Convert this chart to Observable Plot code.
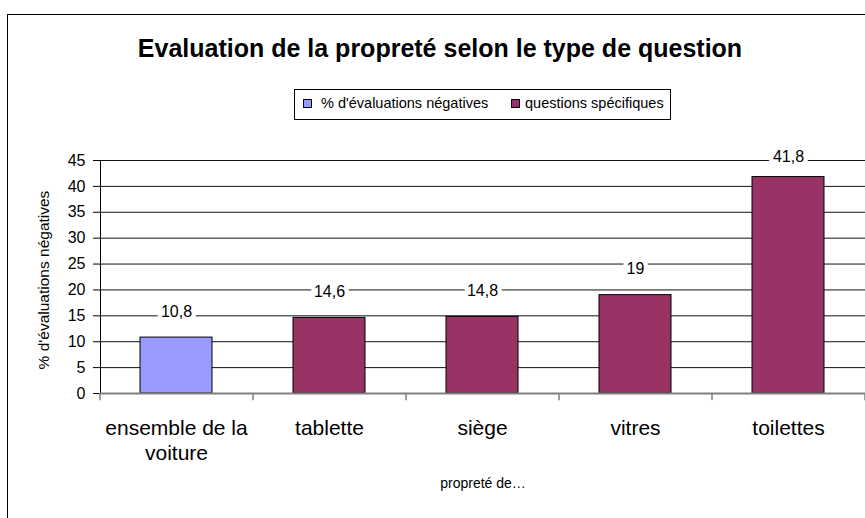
<!DOCTYPE html>
<html>
<head>
<meta charset="utf-8">
<script src="https://cdn.jsdelivr.net/npm/d3@7"></script>
<script src="https://cdn.jsdelivr.net/npm/@observablehq/plot@0.6"></script>
<style>
  html, body { margin: 0; padding: 0; background: #fff; overflow: hidden; }
  #wrap { position: relative; width: 865px; height: 518px; overflow: hidden; font-family: "Liberation Sans", Arial, sans-serif; }
  #wrap svg { position: absolute; left: 0; top: 0; }
  #border { position: absolute; left: 7px; top: 14px; width: 1000px; height: 1000px; border: 1px solid #000; box-sizing: border-box; pointer-events: none; }
  #title { position: absolute; left: 0; top: 36px; width: 880px; text-align: center; font-weight: bold; font-size: 25px; line-height: 25px; color: #000; white-space: nowrap; }
  #legend { position: absolute; left: 294px; top: 89px; width: 377px; height: 31px; border: 1px solid #000; box-sizing: border-box; background: #fff; }
  #legend .sw { position: absolute; top: 9px; width: 9px; height: 9px; border: 1px solid #000; box-sizing: border-box; }
  #legend .lb { position: absolute; top: 6px; font-size: 14.5px; line-height: 15px; color: #000; white-space: nowrap; }
</style>
</head>
<body>
<div id="wrap">
  <div id="title"></div>
  <div id="legend"></div>
  <div id="border"></div>
</div>
<script>
// Cleanliness ratings: share of negative evaluations per question
const categories = ["ensemble de la voiture", "tablette", "siège", "vitres", "toilettes"];
const tickLabels = ["ensemble de la\nvoiture", "tablette", "siège", "vitres", "toilettes"];
const values = [10.8, 14.6, 14.8, 19, 41.8];
const seriesOf = ["% d'évaluations négatives", "questions spécifiques", "questions spécifiques", "questions spécifiques", "questions spécifiques"];
const seriesNames = ["% d'évaluations négatives", "questions spécifiques"];
const seriesColors = ["#9999FF", "#993366"];
const yDomain = [0, 45];
const titleText = "Evaluation de la propreté selon le type de question";
const yTitle = "% d'évaluations négatives";
const xTitle = "propreté de…";

const data = categories.map((c, i) => ({
  category: c,
  tick: tickLabels[i],
  value: values[i],
  series: seriesOf[i]
}));

const fmt = v => String(v).replace(".", ",");

const W = 865, H = 518;
const mLeft = 100, mRight = 0, mTop = 160, mBottom = 125;
const padInner = 0.529, padOuter = padInner / 2;
const step = (W - mLeft - mRight) / (categories.length - padInner + 2 * padOuter);

const chart = Plot.plot({
  width: W,
  height: H,
  marginLeft: mLeft,
  marginRight: mRight,
  marginTop: mTop,
  marginBottom: mBottom,
  style: { fontFamily: "'Liberation Sans', Arial, sans-serif", fontSize: "16px", background: "#fff", color: "#000" },
  x: { domain: categories, paddingInner: padInner, paddingOuter: padOuter, axis: null },
  y: { domain: yDomain, ticks: 10, tickSize: 7, tickPadding: 8, line: true, label: null },
  color: { domain: seriesNames, range: seriesColors },
  marks: [
    // horizontal gridlines
    Plot.ruleY(d3.range(5, yDomain[1] + 1, 5), { stroke: "#111", strokeWidth: 1 }),
    // bars
    Plot.barY(data, { x: "category", y: "value", fill: "series", stroke: "#000", strokeWidth: 1 }),
    // baseline
    Plot.ruleY([0], { stroke: "#808080", strokeWidth: 2 }),
    // category boundary ticks under the baseline
    Plot.ruleX(categories, { x: d => d, y1: 0, y2: -1.4, dx: -step / 2, stroke: "#808080", strokeWidth: 1.5 }),
    Plot.ruleX(categories.slice(-1), { x: d => d, y1: 0, y2: -1.4, dx: step / 2, stroke: "#808080", strokeWidth: 1.5 }),
    // value labels on a white backing, kept inside the plot frame
    Plot.text(data, {
      x: "category",
      y: d => Math.min(d.value, yDomain[1] - 4.25),
      text: d => fmt(d.value),
      dy: -26,
      fontSize: 16,
      lineAnchor: "middle",
      fill: "#000",
      stroke: "#fff",
      strokeWidth: 9,
      strokeLinejoin: "round"
    }),
    // category labels
    Plot.text(data, {
      x: "category",
      text: "tick",
      frameAnchor: "bottom",
      lineAnchor: "top",
      dy: 24,
      fontSize: 21,
      lineHeight: 1.19,
      fill: "#000"
    }),
    // axis titles
    Plot.text([xTitle], { frameAnchor: "bottom", dy: 90, fontSize: 14, lineAnchor: "middle", fill: "#000" }),
    Plot.text([yTitle], { frameAnchor: "left", dx: -56, dy: 3, rotate: -90, fontSize: 15.5, lineAnchor: "middle", textAnchor: "middle", fill: "#000" })
  ]
});

// larger y tick labels
chart.querySelectorAll('g[aria-label^="y-axis"]').forEach(g => {
  g.setAttribute("font-size", "16");
  g.querySelectorAll("[font-size]").forEach(el => el.setAttribute("font-size", "16"));
});

const wrap = document.getElementById("wrap");
wrap.insertBefore(chart, wrap.firstChild);

document.getElementById("title").textContent = titleText;

// legend
const legend = document.getElementById("legend");
const legendPos = [{ sw: 8, lb: 26 }, { sw: 216, lb: 230 }];
seriesNames.forEach((name, i) => {
  const sw = document.createElement("div");
  sw.className = "sw";
  sw.style.left = legendPos[i].sw + "px";
  sw.style.background = seriesColors[i];
  legend.appendChild(sw);
  const lb = document.createElement("div");
  lb.className = "lb";
  lb.style.left = legendPos[i].lb + "px";
  lb.textContent = name;
  legend.appendChild(lb);
});
</script>
</body>
</html>
